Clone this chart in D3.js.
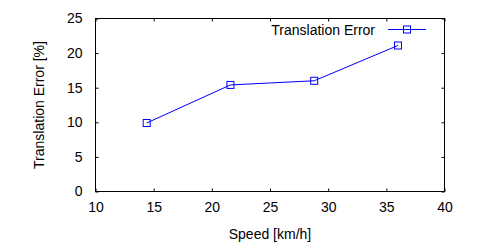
<!DOCTYPE html>
<html>
<head>
<meta charset="utf-8">
<script src="https://cdn.jsdelivr.net/npm/d3@7"></script>
<style>
body { margin: 0; background: #fff; }
text { font-family: "Liberation Sans", Arial, sans-serif; font-size: 14px; fill: #000; }
</style>
</head>
<body>
<script>
// data
var speeds = [14.4, 21.6, 28.8, 36.0];
var errors = [9.9, 15.4, 16.0, 21.1];
var xTicks = [10, 15, 20, 25, 30, 35, 40];
var yTicks = [0, 5, 10, 15, 20, 25];
var seriesName = "Translation Error";

var w = 500, h = 250;
var mLeft = 95.5, mRight = 444.5, mTop = 18.5, mBottom = 191.5;

var x = d3.scaleLinear().domain([10, 40]).range([mLeft, mRight]);
var y = d3.scaleLinear().domain([0, 25]).range([mBottom, mTop]);

var svg = d3.select("body").append("svg")
    .attr("width", w)
    .attr("height", h);

// axes, ticks pointing inward, mirrored on top and right
svg.append("g")
    .attr("transform", "translate(0," + mBottom + ")")
    .call(d3.axisBottom(x).tickValues(xTicks).tickSize(-3).tickPadding(11))
    .call(function(g) { g.select(".domain").remove(); });
svg.append("g")
    .attr("transform", "translate(0," + mTop + ")")
    .call(d3.axisTop(x).tickValues(xTicks).tickSize(-3).tickFormat(""))
    .call(function(g) { g.select(".domain").remove(); });
svg.append("g")
    .attr("transform", "translate(" + mLeft + ",0)")
    .call(d3.axisLeft(y).tickValues(yTicks).tickSize(-3).tickPadding(13))
    .call(function(g) { g.select(".domain").remove(); });
svg.append("g")
    .attr("transform", "translate(" + mRight + ",0)")
    .call(d3.axisRight(y).tickValues(yTicks).tickSize(-3).tickFormat(""))
    .call(function(g) { g.select(".domain").remove(); });

svg.selectAll(".tick line").attr("stroke", "#000");

// frame
svg.append("rect")
    .attr("x", mLeft)
    .attr("y", mTop)
    .attr("width", mRight - mLeft)
    .attr("height", mBottom - mTop)
    .attr("fill", "none")
    .attr("stroke", "#000");

// axis labels
svg.append("text")
    .attr("x", (mLeft + mRight) / 2)
    .attr("y", 239)
    .attr("text-anchor", "middle")
    .text("Speed [km/h]");

svg.append("text")
    .attr("transform", "translate(44," + (mTop + mBottom) / 2 + ") rotate(-90)")
    .attr("text-anchor", "middle")
    .text("Translation Error [%]");

// series
var pts = speeds.map(function(s, i) { return [s, errors[i]]; });

svg.append("path")
    .datum(pts)
    .attr("fill", "none")
    .attr("stroke", "#0000ff")
    .attr("stroke-width", 1)
    .attr("d", d3.line().x(function(d) { return x(d[0]); }).y(function(d) { return y(d[1]); }));

svg.selectAll(".pt")
    .data(pts)
    .enter()
    .append("rect")
    .attr("class", "pt")
    .attr("x", function(d) { return x(d[0]) - 3.5; })
    .attr("y", function(d) { return y(d[1]) - 3.5; })
    .attr("width", 7)
    .attr("height", 7)
    .attr("fill", "none")
    .attr("stroke", "#0000ff");

// legend
var legend = svg.append("g").attr("transform", "translate(0,29.5)");
legend.append("text")
    .attr("x", 375)
    .attr("y", 5)
    .attr("text-anchor", "end")
    .text(seriesName);
legend.append("line")
    .attr("x1", 388).attr("x2", 426)
    .attr("y1", 0).attr("y2", 0)
    .attr("stroke", "#0000ff");
legend.append("rect")
    .attr("x", 407 - 3.5).attr("y", -3.5)
    .attr("width", 7).attr("height", 7)
    .attr("fill", "none")
    .attr("stroke", "#0000ff");
</script>
</body>
</html>
